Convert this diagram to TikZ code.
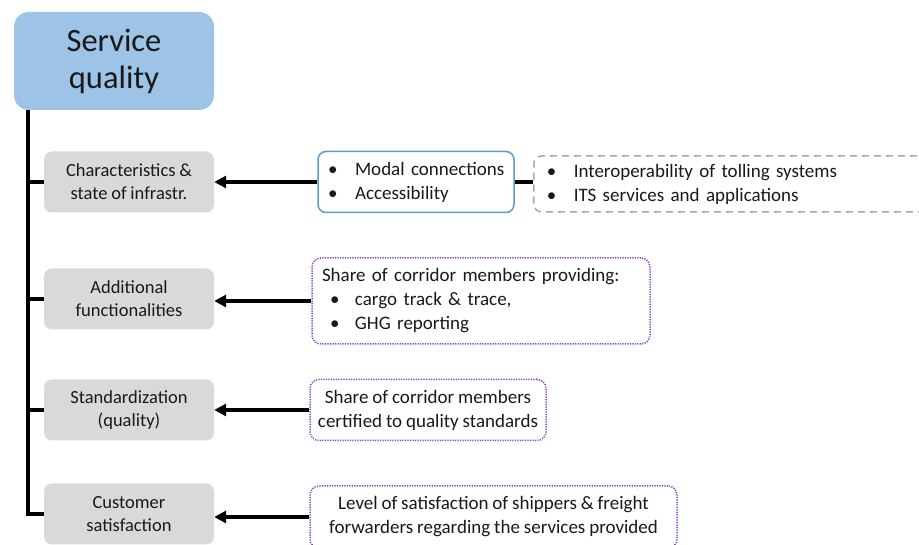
\documentclass[tikz,border=0pt]{standalone}
\usepackage{fontspec}
\setmainfont{Carlito}[WordSpace=0.9]
\usetikzlibrary{arrows.meta}
\definecolor{sqblue}{HTML}{9DC3E6}
\definecolor{bordblue}{HTML}{5B9BD5}
\definecolor{boxgray}{HTML}{D9D9D9}
\definecolor{dashgray}{HTML}{A6A6A6}
\definecolor{dotpurple}{HTML}{7F3FBF}
\newcommand{\bitem}[1]{\mbox{\makebox[27pt][l]{•}#1}}
\tikzset{
  x=1pt, y=1pt,
  every node/.style={font=\fontsize{19}{24}\selectfont, text=black!90},
  titlebox/.style={draw=none, fill=sqblue, rounded corners=15pt, minimum width=200pt, minimum height=98pt, align=center, font=\fontsize{32.5}{37}\selectfont},
  catbox/.style={draw=none, fill=boxgray, rounded corners=8pt, minimum width=170pt, minimum height=61pt, align=center, font=\fontsize{18.5}{23}\selectfont},
  bluebox/.style={draw=bordblue, line width=1.5pt, fill=white, rounded corners=8pt, align=left, inner xsep=5pt},
  grayd/.style={draw=dashgray, line width=1.5pt, dash pattern=on 7pt off 5pt, rounded corners=8pt, align=left, inner xsep=13pt},
  purpd/.style={draw=dotpurple, line width=1.5pt, dash pattern=on 1.2pt off 1.3pt, rounded corners=9pt},
  trunk/.style={line width=3.2pt, black},
  arr/.style={line width=3.2pt, black, -{Triangle[length=12pt,width=12pt]}},
}
\begin{document}
\begin{tikzpicture}
\useasboundingbox (0,0) rectangle (919,545);
\clip (0,0) rectangle (919,545);
% title
\node[titlebox] (sq) at (114,484) {Service\\quality};
% categories
\node[catbox] (g1) at (129,363) {Characteristics \&\\state of infrastr.};
\node[catbox] (g2) at (129,246) {Additional\\functionalities};
\node[catbox] (g3) at (129,135) {Standardization\\(quality)};
\node[catbox] (g4) at (129,31) {Customer\\satisfaction};
% trunk
\coordinate (tt) at (28,435);
\draw[trunk] (tt) -- (tt |- g4.west) -- (g4.west);
\draw[trunk] (g1.west) -- (g1.west -| tt);
\draw[trunk] (g2.west) -- (g2.west -| tt);
\draw[trunk] (g3.west) -- (g3.west -| tt);
% right boxes
\node[bluebox, minimum width=196pt, minimum height=61pt, text width=186pt] (b1) at (416,363)
  {\hspace*{5pt}\bitem{Modal connections}\\\hspace*{5pt}\bitem{Accessibility}};
\node[grayd, minimum width=427pt, minimum height=56pt, text width=401pt, anchor=west] (d1) at (533,361)
  {\bitem{Interoperability of tolling systems}\\\bitem{ITS services and applications}};
\node[purpd, minimum width=338pt, minimum height=86pt, text width=318pt, align=left, inner xsep=10pt] (p2) at (481,244)
  {\mbox{Share of corridor members providing:}\\\hspace*{8pt}\mbox{\makebox[25pt][l]{•}cargo track \& trace,}\\\hspace*{8pt}\mbox{\makebox[25pt][l]{•}GHG reporting}};
\node[purpd, minimum width=236pt, minimum height=61pt, align=center, inner xsep=4pt] (p3) at (428,135)
  {Share of corridor members\\certified to quality standards};
\node[purpd, minimum width=367pt, minimum height=62pt, align=center] (p4) at (493.5,28)
  {Level of satisfaction of shippers \& freight\\forwarders regarding the services provided};
% connectors
\draw[trunk] (b1.east) -- (b1.east -| d1.west);
\draw[arr] (b1.west) -- (b1.west -| g1.east);
\draw[arr] (p2.west) -- (p2.west -| g2.east);
\draw[arr] (p3.west) -- (p3.west -| g3.east);
\draw[arr] (p4.west) -- (p4.west -| g4.east);
\end{tikzpicture}
\end{document}
